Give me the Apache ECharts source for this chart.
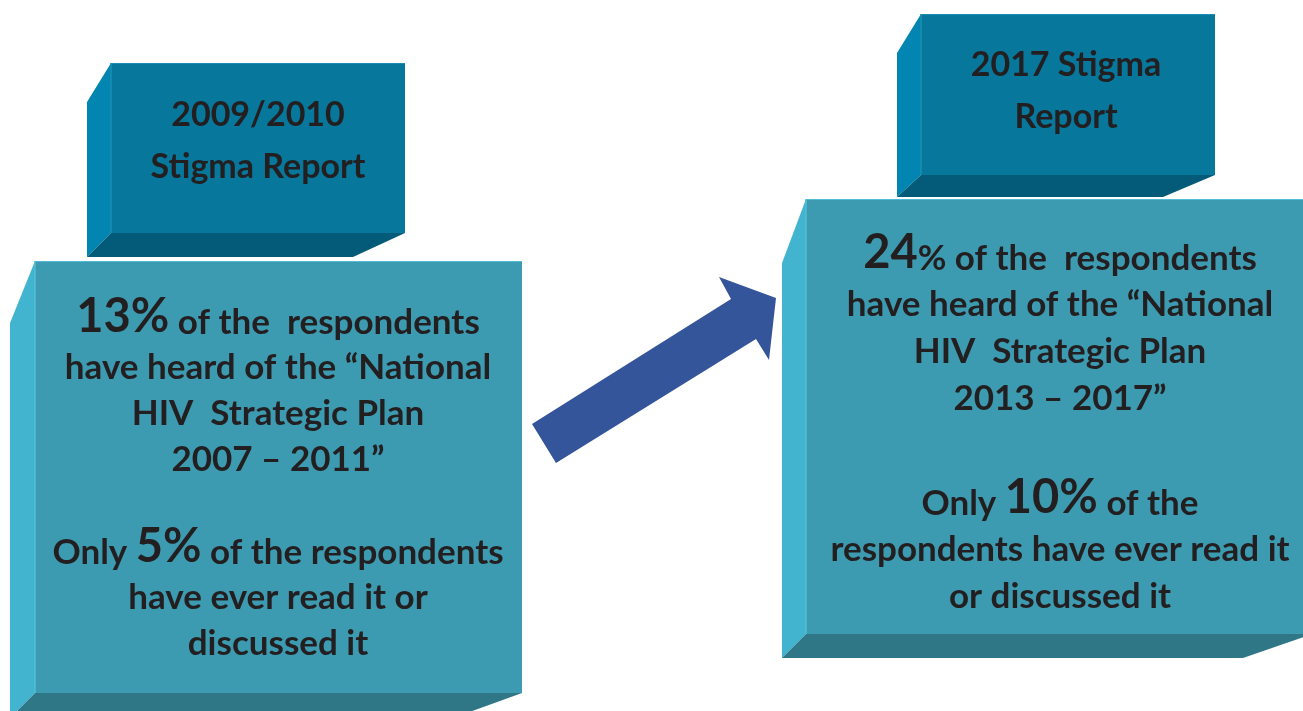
<!DOCTYPE html>
<html><head><meta charset="utf-8">
<script src="https://cdn.jsdelivr.net/npm/echarts@6/dist/echarts.min.js"></script>
<style>html,body{margin:0;padding:0;background:#fff}#c{width:1303px;height:711px}</style>
</head><body><div id="c"></div>
<script>
// ---- data ----
const reportTitles = [['2009/2010', 'Stigma Report'], ['2017 Stigma', 'Report']];
const heardPct = [13, 24];
const readPct = [5, 10];
const planPeriods = ['2007 – 2011', '2013 – 2017'];

const FONT = 'Lato, "Open Sans", sans-serif';
const TXT = '#231f20';

const chart = echarts.init(document.getElementById('c'));

function box(f, side, depth, bottomShift, cols) {
  const [x1, y1, x2, y2] = f;
  const sx = x1 - side;
  const els = [];
  els.push({type: 'rect', shape: {x: x1, y: y1, width: x2 - x1, height: y2 - y1}, style: {fill: cols.front}});
  els.push({type: 'polygon', shape: {points: [[sx, y1 + depth.top], [x1, y1], [x1, y2], [sx, y2 + depth.bottom]]}, style: {fill: cols.side}});
  els.push({type: 'polygon', shape: {points: [[x1, y2], [x2, y2], [x2 - bottomShift, y2 + depth.bottom], [sx, y2 + depth.bottom]]}, style: {fill: cols.bottom}});
  els.push({type: 'line', shape: {x1: x1, y1: y1, x2: x1, y2: y2}, style: {stroke: cols.edge, lineWidth: 1.5}});
  els.push({type: 'line', shape: {x1: x1, y1: y1 + 0.5, x2: x2, y2: y1 + 0.5}, style: {stroke: cols.edge, lineWidth: 1}});
  return els;
}

const titleCols = {front: '#07779b', side: '#0286b1', bottom: '#045a79', edge: '#1a8eb3'};
const bigCols = {front: '#3d9bb1', side: '#43b4cf', bottom: '#2f7787', edge: '#52bcd5'};

let g = [];
g = g.concat(box([111, 63, 405, 233], 24, {top: 39, bottom: 24}, 52, titleCols));
g = g.concat(box([921, 14, 1215, 175], 24, {top: 39, bottom: 22}, 52, titleCols));
g = g.concat(box([35, 261, 522, 693], 25, {top: 62, bottom: 25}, 69, bigCols));
g = g.concat(box([806, 199, 1312, 634], 24, {top: 64, bottom: 24}, 69, bigCols));

// arrow
g.push({type: 'polygon', shape: {points: [[532, 424], [731, 299], [719, 277], [776, 298], [769, 360], [756, 339], [556, 463]]}, style: {fill: '#35559a'}});

const NS = 35, BS = 47;
function line(x, y, text) {
  return {type: 'text', x: x, y: y, style: {text: text, x: 0, y: 0, align: 'center', verticalAlign: 'middle',
    fill: TXT, font: 'bold ' + NS + 'px ' + FONT, rich: rich}};
}
const rich = {
  n: {fontFamily: FONT, fontWeight: 'bold', fontSize: NS, fill: TXT, verticalAlign: 'bottom'},
  b: {fontFamily: FONT, fontWeight: 'bold', fontSize: BS, fill: TXT, verticalAlign: 'bottom'}
};

const titlePos = [[258, 115, 52], [1066, 65, 52]];
reportTitles.forEach((t, i) => {
  t.forEach((s, j) => {
    g.push({type: 'text', x: titlePos[i][0], y: titlePos[i][1] + j * titlePos[i][2],
      style: {text: s, align: 'center', verticalAlign: 'middle', fill: TXT, font: 'bold 34px ' + FONT}});
  });
});

const L = [278, 368, 46];
g.push(line(L[0], L[1] - L[2] - 5, '{b|' + heardPct[0] + '%}{n| of the  respondents}'));
g.push(line(L[0], L[1], '{n|have heard of the “National}'));
g.push(line(L[0], L[1] + L[2], '{n|HIV  Strategic Plan}'));
g.push(line(L[0], L[1] + 2 * L[2], '{n|' + planPeriods[0] + '”}'));
g.push(line(L[0], L[1] + 4 * L[2] - 5, '{n|Only }{b|' + readPct[0] + '%}{n| of the respondents}'));
g.push(line(L[0], L[1] + 5 * L[2], '{n|have ever read it or}'));
g.push(line(L[0], L[1] + 6 * L[2], '{n|discussed it}'));

const R = [1060, 305, 47];
g.push(line(R[0], R[1] - R[2] - 5, '{b|' + heardPct[1] + '}{n|% of the  respondents}'));
g.push(line(R[0], R[1], '{n|have heard of the “National}'));
g.push(line(R[0], R[1] + R[2], '{n|HIV  Strategic Plan}'));
g.push(line(R[0], R[1] + 2 * R[2], '{n|' + planPeriods[1] + '”}'));
g.push(line(R[0], 503 - 5, '{n|Only }{b|' + readPct[1] + '%}{n| of the}'));
g.push(line(R[0], 550, '{n|respondents have ever read it}'));
g.push(line(R[0], 597, '{n|or discussed it}'));

chart.setOption({animation: false, graphic: {elements: g}});
</script></body></html>
